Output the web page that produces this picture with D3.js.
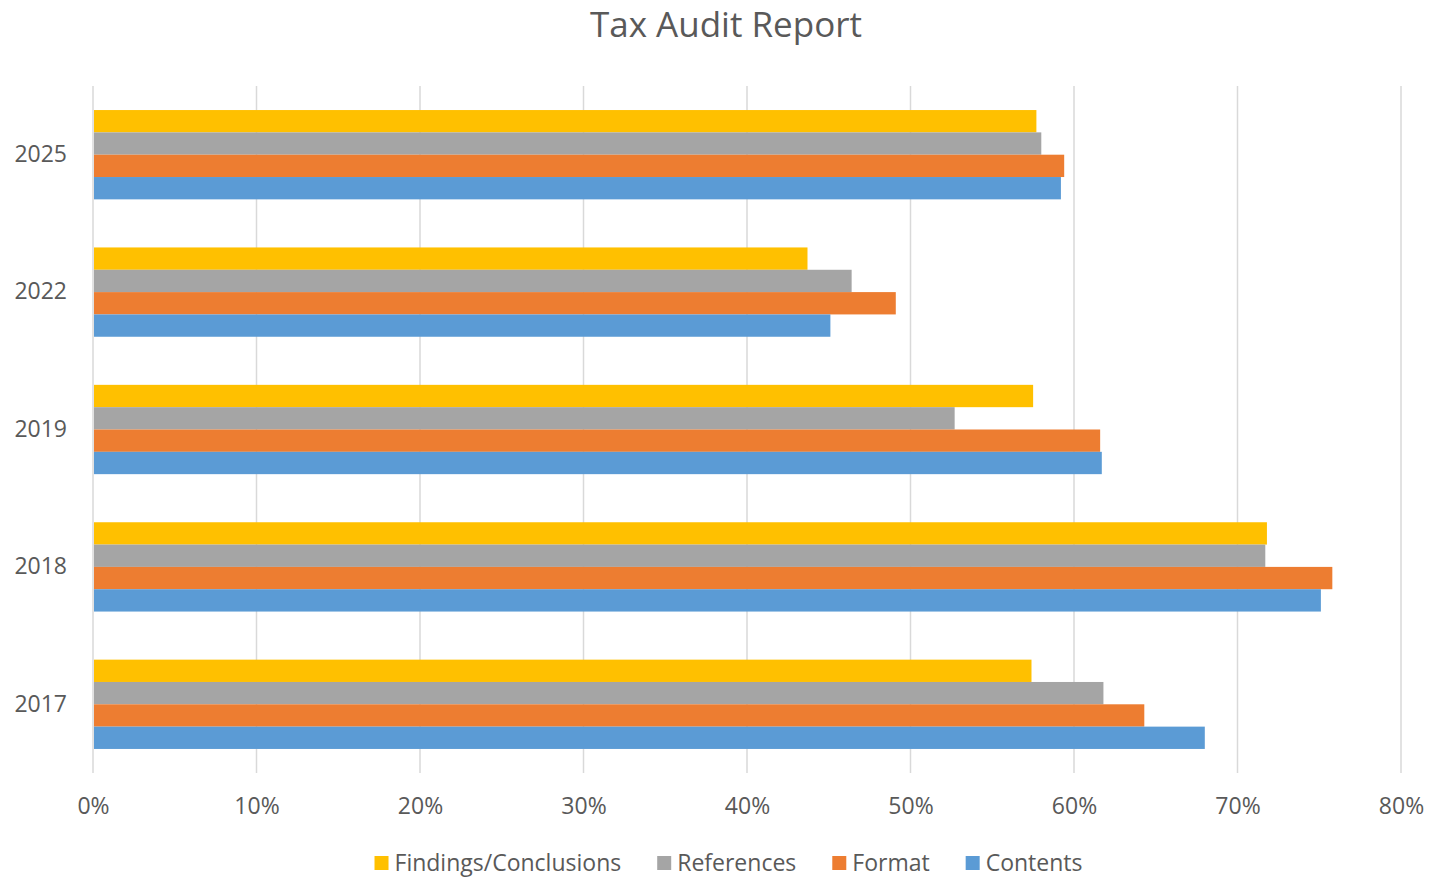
<!DOCTYPE html>
<html>
<head>
<meta charset="utf-8">
<script src="https://cdn.jsdelivr.net/npm/d3@7"></script>
<style>
  body { margin: 0; background: #fff; }
  text { font-family: "Open Sans", sans-serif; fill: #595959; }
</style>
</head>
<body>
<div id="chart"></div>
<script>
/* DATA */
const years = ["2025", "2022", "2019", "2018", "2017"];
const seriesNames = ["Findings/Conclusions", "References", "Format", "Contents"];
const findings   = [57.7, 43.7, 57.5, 71.8, 57.4];
const references = [58.0, 46.4, 52.7, 71.7, 61.8];
const format     = [59.4, 49.1, 61.6, 75.8, 64.3];
const contents   = [59.2, 45.1, 61.7, 75.1, 68.0];
const xTicks = [0, 10, 20, 30, 40, 50, 60, 70, 80];

const colors = ["#FFC000", "#A5A5A5", "#ED7D31", "#5B9BD5"];
const seriesValues = [findings, references, format, contents];

/* CONSTANTS */
const width = 1429,
  height = 879,
  margin = { top: 86, bottom: 106, left: 93, right: 28 };

const svg = d3.select("#chart")
  .append("svg")
  .attr("width", width)
  .attr("height", height);

// scales
const xScale = d3.scaleLinear()
  .domain([0, 80])
  .range([margin.left, width - margin.right]);

const yScale = d3.scaleBand()
  .domain(years)
  .range([margin.top, height - margin.bottom])
  .paddingInner(0.35)
  .paddingOuter(0.175);

const ySub = d3.scaleBand()
  .domain(seriesNames)
  .range([0, yScale.bandwidth()]);

// gridlines
svg.append("g")
  .selectAll("line")
  .data(xTicks)
  .join("line")
  .attr("x1", d => xScale(d))
  .attr("x2", d => xScale(d))
  .attr("y1", margin.top)
  .attr("y2", height - margin.bottom)
  .attr("stroke", "#d9d9d9")
  .attr("stroke-width", 1.5);

// bars
const rows = years.map((y, i) => ({
  year: y,
  values: seriesNames.map((s, j) => ({ series: s, value: seriesValues[j][i], color: colors[j] }))
}));

svg.append("g")
  .selectAll("g")
  .data(rows)
  .join("g")
  .attr("transform", d => `translate(0, ${yScale(d.year)})`)
  .selectAll("rect")
  .data(d => d.values)
  .join("rect")
  .attr("x", xScale(0) + 1)
  .attr("y", d => ySub(d.series))
  .attr("width", d => xScale(d.value) - xScale(0) - 1)
  .attr("height", ySub.bandwidth())
  .attr("fill", d => d.color);

// x axis
const xAxis = d3.axisBottom(xScale)
  .tickValues(xTicks)
  .tickFormat(d => d + "%")
  .tickSize(0)
  .tickPadding(25);

svg.append("g")
  .attr("transform", `translate(0, ${height - margin.bottom})`)
  .call(xAxis)
  .call(g => g.select(".domain").remove())
  .selectAll("text")
  .style("font-size", "23px")
  .attr("fill", "#595959");

// y axis
const yAxis = d3.axisLeft(yScale)
  .tickSize(0)
  .tickPadding(26);

svg.append("g")
  .attr("transform", `translate(${margin.left}, 0)`)
  .call(yAxis)
  .call(g => g.select(".domain").remove())
  .selectAll("text")
  .style("font-size", "23px")
  .attr("fill", "#595959");

// title
svg.append("text")
  .attr("x", 726)
  .attr("y", 37)
  .attr("text-anchor", "middle")
  .style("font-size", "35px")
  .text("Tax Audit Report");

// legend
const legend = svg.append("g");
const items = legend.selectAll("g")
  .data(seriesNames)
  .join("g");

items.append("rect")
  .attr("width", 14)
  .attr("height", 14)
  .attr("y", -15)
  .attr("fill", (d, i) => colors[i]);

items.append("text")
  .attr("x", 20)
  .attr("y", 0)
  .style("font-size", "23px")
  .text(d => d);

let offset = 0;
items.each(function () {
  const w = this.getBBox().width;
  d3.select(this).attr("transform", `translate(${offset}, 0)`);
  offset += w + 36;
});
const legendWidth = offset - 36;
legend.attr("transform", `translate(${(width - legendWidth) / 2 + 14}, 871)`);
</script>
</body>
</html>
